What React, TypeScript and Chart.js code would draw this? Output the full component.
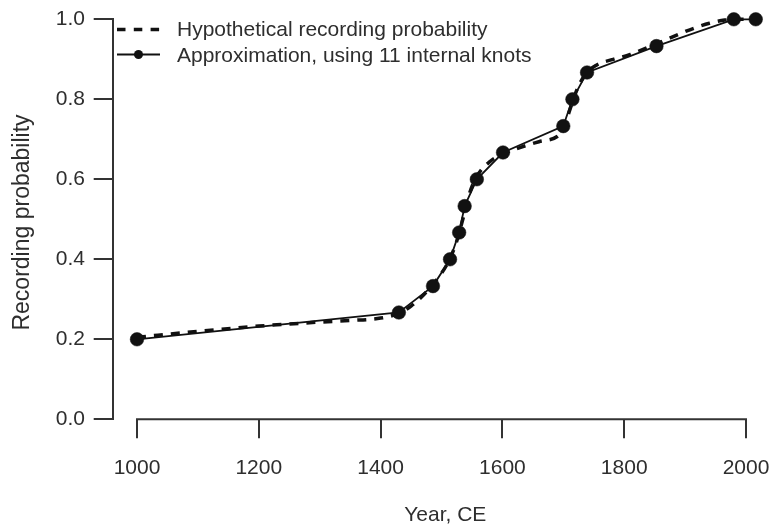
import React, { useEffect, useRef } from "react";
import { Chart, registerables } from "chart.js";

Chart.register(...registerables);

// ---- data ----
const approxYears = [1000, 1430, 1486, 1514, 1529, 1538, 1558, 1601, 1700, 1715, 1739, 1853, 1980, 2016];
const approxProb = [0.2, 0.267, 0.333, 0.4, 0.467, 0.533, 0.6, 0.667, 0.733, 0.8, 0.867, 0.933, 1.0, 1.0];

const hypoYears = [1000, 1100, 1200, 1300, 1350, 1400, 1430, 1450, 1470, 1490, 1510, 1525, 1535, 1545, 1557, 1580, 1600, 1630, 1660, 1690, 1700, 1710, 1720, 1735, 1755, 1780, 1810, 1850, 1890, 1915, 1940, 1965, 1990, 2016];
const hypoProb = [0.205, 0.22, 0.233, 0.243, 0.247, 0.253, 0.265, 0.283, 0.31, 0.345, 0.39, 0.445, 0.5, 0.56, 0.605, 0.645, 0.662, 0.68, 0.694, 0.707, 0.725, 0.77, 0.815, 0.86, 0.886, 0.899, 0.912, 0.937, 0.963, 0.978, 0.99, 0.998, 1.0, 1.0];

const xTicks = [1000, 1200, 1400, 1600, 1800, 2000];
const yTicks = [0, 0.2, 0.4, 0.6, 0.8, 1.0];

const seriesLabels = ["Hypothetical recording probability", "Approximation, using 11 internal knots"];
const xTitle = " Year, CE";
const yTitle = "Recording probability ";

// ---- style ----
const FONT_FAMILY = '"Liberation Sans", Arial, Helvetica, sans-serif';
const TEXT_COLOR = "#2e2e2e";
const AXIS_COLOR = "#333333";
const LINE_COLOR = "#111111";
const DASH = [9, 8];

const rAxisLegend = {
  id: "rAxisLegend",
  afterDraw(chart: any) {
    const { ctx, chartArea, scales } = chart;
    const xs = scales.x;
    ctx.save();
    // x axis line spanning first to last tick (R style)
    ctx.strokeStyle = AXIS_COLOR;
    ctx.lineWidth = 2;
    ctx.setLineDash([]);
    ctx.beginPath();
    ctx.moveTo(xs.getPixelForValue(xTicks[0]) - 1, chartArea.bottom);
    ctx.lineTo(xs.getPixelForValue(xTicks[xTicks.length - 1]) + 1, chartArea.bottom);
    ctx.stroke();

    // legend (no box)
    const sx0 = 117;
    const sx1 = 160;
    const rows = [29.5, 54.5];
    ctx.strokeStyle = LINE_COLOR;
    ctx.fillStyle = LINE_COLOR;
    ctx.lineWidth = 3.5;
    ctx.setLineDash([8.5, 8.3]);
    ctx.beginPath();
    ctx.moveTo(sx0, rows[0]);
    ctx.lineTo(sx1, rows[0]);
    ctx.stroke();
    ctx.setLineDash([]);
    ctx.lineWidth = 2;
    ctx.beginPath();
    ctx.moveTo(sx0, rows[1]);
    ctx.lineTo(sx1, rows[1]);
    ctx.stroke();
    ctx.beginPath();
    ctx.arc((sx0 + sx1) / 2, rows[1], 4.5, 0, Math.PI * 2);
    ctx.fill();

    ctx.fillStyle = TEXT_COLOR;
    ctx.font = `21px ${FONT_FAMILY}`;
    ctx.textAlign = "left";
    ctx.textBaseline = "middle";
    ctx.fillText(seriesLabels[0], 177, rows[0] + 1);
    ctx.fillText(seriesLabels[1], 177, rows[1] + 1.5);
    ctx.restore();
  },
};

export default function App() {
  const canvasRef = useRef<HTMLCanvasElement | null>(null);

  useEffect(() => {
    document.body.style.margin = "0";
    const canvas = canvasRef.current;
    if (!canvas) return;

    const chart = new Chart(canvas, {
      type: "line",
      data: {
        datasets: [
          {
            label: seriesLabels[0],
            data: hypoYears.map((x, i) => ({ x, y: hypoProb[i] })),
            borderColor: LINE_COLOR,
            borderWidth: 3.5,
            borderDash: DASH,
            pointRadius: 0,
            cubicInterpolationMode: "monotone",
            fill: false,
            clip: false as any,
            order: 2,
          },
          {
            label: seriesLabels[1],
            data: approxYears.map((x, i) => ({ x, y: approxProb[i] })),
            borderColor: LINE_COLOR,
            borderWidth: 1.8,
            pointRadius: 6.8,
            pointBackgroundColor: LINE_COLOR,
            pointBorderColor: LINE_COLOR,
            pointBorderWidth: 0.5,
            tension: 0,
            fill: false,
            clip: false as any,
            order: 1,
          },
        ],
      },
      options: {
        responsive: false,
        animation: false,
        devicePixelRatio: 1,
        layout: { autoPadding: false, padding: { top: 19.3, left: 0, right: 0, bottom: 0 } },
        plugins: {
          legend: { display: false },
          tooltip: { enabled: false },
        },
        scales: {
          x: {
            type: "linear",
            min: 960.1,
            max: 2042.7,
            afterBuildTicks: (scale: any) => {
              scale.ticks = xTicks.map((v) => ({ value: v }));
            },
            afterFit: (scale: any) => {
              scale.height = 108.7;
              scale.paddingLeft = 0;
              scale.paddingRight = 0;
            },
            border: { display: false },
            grid: {
              display: true,
              drawOnChartArea: false,
              drawTicks: true,
              tickLength: 19,
              color: AXIS_COLOR,
              lineWidth: 2,
            },
            ticks: {
              autoSkip: false,
              maxRotation: 0,
              padding: 17,
              color: TEXT_COLOR,
              font: { family: FONT_FAMILY, size: 21 },
              callback: (v: any) => String(v),
            },
            title: {
              display: true,
              text: xTitle,
              color: TEXT_COLOR,
              font: { family: FONT_FAMILY, size: 21 },
              padding: { top: 0, bottom: 0.4 },
            },
          },
          y: {
            type: "linear",
            min: 0,
            max: 1,
            afterBuildTicks: (scale: any) => {
              scale.ticks = yTicks.map((v) => ({ value: v }));
            },
            afterFit: (scale: any) => {
              scale.width = 112.7;
              scale.paddingTop = 0;
              scale.paddingBottom = 0;
            },
            border: { display: true, color: AXIS_COLOR, width: 2 },
            grid: {
              display: true,
              drawOnChartArea: false,
              drawTicks: true,
              tickLength: 19,
              color: AXIS_COLOR,
              lineWidth: 2,
            },
            ticks: {
              padding: 8.7,
              color: TEXT_COLOR,
              font: { family: FONT_FAMILY, size: 21 },
              callback: (v: any) => Number(v).toFixed(1),
            },
            title: {
              display: true,
              text: yTitle,
              color: TEXT_COLOR,
              font: { family: FONT_FAMILY, size: 23 },
              padding: { top: 9, bottom: 0 },
            },
          },
        },
      },
      plugins: [rAxisLegend],
    });

    return () => chart.destroy();
  }, []);

  return (
    <div style={{ width: 772, height: 528, position: "relative" }}>
      <canvas ref={canvasRef} width={772} height={528} style={{ display: "block" }} />
    </div>
  );
}
